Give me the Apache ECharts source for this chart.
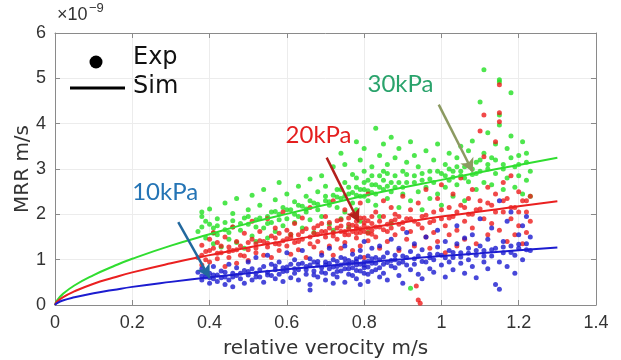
<!DOCTYPE html>
<html>
<head>
<meta charset="utf-8">
<script src="https://cdn.jsdelivr.net/npm/echarts@6/dist/echarts.min.js"></script>
<style>
  html, body { margin: 0; padding: 0; background: #fff; }
  #chart { width: 621px; height: 360px; }
</style>
</head>
<body>
<div id="chart"></div>
<script>
// values in units of 1e-9 m/s
const xTicks = [0, 0.2, 0.4, 0.6, 0.8, 1, 1.2, 1.4];
const yTicks = [0, 1, 2, 3, 4, 5, 6];

// simulation curves
const simX = [0, 0.005, 0.02, 0.05, 0.1, 0.15, 0.2, 0.3, 0.4, 0.5, 0.6, 0.7, 0.8, 0.9, 1.0, 1.1, 1.2, 1.3];
const sim10 = [0, 0.04, 0.10, 0.17, 0.26, 0.33, 0.40, 0.51, 0.61, 0.70, 0.79, 0.86, 0.94, 1.01, 1.08, 1.14, 1.21, 1.27];
const sim20 = [0, 0.07, 0.17, 0.30, 0.47, 0.60, 0.72, 0.92, 1.10, 1.27, 1.42, 1.56, 1.69, 1.82, 1.95, 2.06, 2.18, 2.29];
const sim30 = [0, 0.10, 0.24, 0.43, 0.66, 0.85, 1.02, 1.31, 1.56, 1.80, 2.01, 2.21, 2.41, 2.59, 2.76, 2.93, 3.09, 3.25];

// experimental points [velocity, MRR]
const exp30 = [
  [0.37,1.62],[0.38,1.95],[0.38,2.05],[0.39,1.48],[0.40,1.78],[0.40,2.12],[0.41,1.35],[0.41,1.70],[0.42,1.90],[0.42,1.55],
  [0.43,1.28],[0.44,1.82],[0.44,2.25],[0.45,1.60],[0.45,1.45],[0.46,2.02],[0.46,1.72],[0.47,1.38],[0.47,2.35],
  [0.48,1.65],[0.49,1.92],[0.49,1.25],[0.50,2.10],[0.50,1.78],[0.51,1.52],[0.51,2.42],[0.52,1.88],[0.52,1.40],
  [0.53,2.20],[0.54,1.70],[0.54,2.55],[0.55,1.95],[0.55,1.48],[0.56,2.05],[0.56,1.82],[0.57,2.32],[0.57,1.62],
  [0.58,2.00],[0.58,2.70],[0.59,1.75],[0.59,2.15],[0.60,1.90],[0.60,2.45],[0.61,1.55],[0.61,2.10],[0.62,2.28],[0.62,1.82],
  [0.63,2.62],[0.63,1.95],[0.64,2.18],[0.64,1.70],[0.65,2.40],[0.65,2.05],[0.66,2.78],[0.66,1.88],[0.67,2.25],[0.67,1.60],
  [0.68,2.50],[0.68,2.10],[0.69,2.85],[0.69,1.95],[0.70,2.30],[0.70,2.62],[0.71,1.78],[0.71,2.20],[0.72,3.05],[0.72,2.42],[0.72,1.65],
  [0.73,2.55],[0.73,2.15],[0.74,3.35],[0.74,2.35],[0.74,1.90],[0.75,2.70],[0.75,2.05],[0.75,3.10],[0.76,2.45],[0.76,1.72],[0.77,2.88],[0.77,2.25],
  [0.78,3.60],[0.78,2.60],[0.78,2.10],[0.79,3.20],[0.79,2.40],[0.79,1.85],[0.80,2.95],[0.80,2.55],[0.80,3.45],[0.81,2.30],[0.81,2.75],[0.81,1.60],[0.82,3.05],[0.82,2.48],
  [0.83,3.90],[0.83,2.65],[0.83,2.20],[0.84,3.30],[0.84,2.85],[0.84,1.95],[0.85,3.55],[0.85,2.55],[0.86,3.10],[0.86,2.35],[0.86,2.90],[0.87,3.70],[0.87,2.70],[0.87,1.80],
  [0.88,3.25],[0.88,2.60],[0.89,3.45],[0.89,2.15],[0.90,2.95],[0.90,2.45],[0.91,3.15],[0.91,2.70],[0.92,3.60],[0.92,2.30],[0.92,0.37],
  [0.93,2.85],[0.93,3.30],[0.94,2.50],[0.94,3.05],[0.95,2.75],[0.95,2.10],[0.96,3.40],[0.96,2.60],[0.97,2.95],[0.97,2.35],
  [0.98,3.20],[0.98,2.70],[0.99,2.45],[0.99,3.55],[1.00,2.90],[1.00,2.20],[1.01,3.10],[1.01,2.60],[1.02,3.35],[1.02,2.75],
  [1.03,2.95],[1.03,2.40],[1.04,3.25],[1.04,2.65],[1.05,3.50],[1.05,2.85],[1.06,2.30],[1.06,3.05],[1.07,2.72],[1.07,3.40],
  [1.08,2.88],[1.08,3.62],[1.09,2.55],[1.09,3.15],[1.10,4.48],[1.10,2.95],[1.11,5.19],[1.11,3.35],[1.11,2.70],[1.12,3.00],[1.12,3.80],
  [1.13,2.65],[1.13,3.25],[1.14,3.55],[1.14,2.90],[1.15,4.97],[1.15,4.19],[1.15,3.97],[1.15,4.92],[1.16,3.10],[1.16,2.55],[1.17,3.45],[1.17,2.80],
  [1.18,4.68],[1.18,3.73],[1.19,3.05],[1.19,2.60],[1.20,3.30],[1.20,2.85],[1.21,3.60],[1.21,2.45],[1.22,3.15],[1.22,2.75],[1.23,2.95],[1.23,2.40]
];
const exp30Dense = [
  [0.38,1.72],[0.39,1.85],[0.41,1.58],[0.42,1.75],[0.44,1.66],[0.46,1.86],[0.48,1.80],[0.50,1.95],[0.52,1.72],[0.53,1.92],
  [0.55,1.80],[0.57,2.06],[0.58,1.88],[0.60,2.10],[0.62,2.00],[0.63,2.20],[0.65,2.12],[0.66,2.30],[0.68,2.22],[0.70,2.40],
  [0.71,2.28],[0.73,2.38],[0.74,2.55],[0.75,2.40],[0.76,2.60],[0.77,2.48],[0.78,2.42],[0.78,2.80],[0.79,2.55],[0.80,2.40],
  [0.80,2.70],[0.81,2.52],[0.82,2.65],[0.82,2.85],[0.83,2.45],[0.84,2.60],[0.85,2.75],[0.85,2.95],[0.86,2.62],[0.87,2.50],
  [0.88,2.85],[0.89,2.70],[0.90,2.60],[0.91,2.88],[0.93,2.70],[0.95,2.90],[0.97,2.78],[0.99,2.95],[1.01,2.85],[1.02,3.00],
  [1.03,2.82],[1.04,3.05],[1.05,2.95],[1.06,2.80],[1.07,3.10],[1.08,3.00],[1.09,2.90],[1.10,3.20],[1.12,3.10],[1.14,3.20],
  [1.16,3.00],[1.18,3.25],[1.20,3.10],[1.22,3.35]
];
const exp20 = [
  [0.37,1.05],[0.38,1.32],[0.38,0.88],[0.39,1.18],[0.40,1.45],[0.40,0.95],[0.41,1.25],[0.41,1.60],[0.42,1.02],[0.42,1.38],
  [0.43,1.15],[0.44,0.85],[0.44,1.50],[0.45,1.28],[0.45,1.05],[0.46,1.72],[0.46,1.20],[0.47,0.92],[0.47,1.40],
  [0.48,1.30],[0.49,1.08],[0.49,1.58],[0.50,1.22],[0.50,0.98],[0.51,1.45],[0.51,1.85],[0.52,1.15],[0.52,1.35],
  [0.53,1.62],[0.54,1.10],[0.54,1.40],[0.55,1.28],[0.55,1.90],[0.56,1.05],[0.56,1.52],[0.57,1.35],[0.57,1.70],
  [0.58,1.20],[0.58,1.58],[0.59,1.42],[0.59,2.05],[0.60,1.30],[0.60,1.65],[0.61,1.12],[0.61,1.50],[0.62,1.80],[0.62,1.38],
  [0.63,1.55],[0.63,1.22],[0.64,1.92],[0.64,1.45],[0.65,1.68],[0.65,1.05],[0.66,1.35],[0.66,2.15],[0.67,1.58],[0.67,1.28],
  [0.68,1.75],[0.68,1.40],[0.69,1.62],[0.69,1.15],[0.70,1.95],[0.70,1.50],[0.71,1.30],[0.71,1.82],[0.72,1.60],[0.72,2.30],[0.72,1.10],
  [0.73,1.70],[0.73,1.45],[0.74,1.88],[0.74,1.25],[0.75,1.62],[0.75,2.10],[0.75,1.38],[0.76,1.78],[0.76,1.55],[0.77,2.00],[0.77,1.20],
  [0.78,1.68],[0.78,1.85],[0.78,1.48],[0.79,2.25],[0.79,1.60],[0.79,1.30],[0.80,1.75],[0.80,1.92],[0.80,1.05],[0.81,1.58],[0.81,2.45],[0.81,1.42],[0.82,1.80],[0.82,1.65],
  [0.83,2.05],[0.83,1.50],[0.84,1.72],[0.84,1.25],[0.85,1.95],[0.85,2.30],[0.86,1.62],[0.86,1.40],[0.87,1.85],[0.87,2.15],
  [0.88,1.55],[0.88,2.00],[0.89,1.78],[0.89,1.20],[0.90,2.40],[0.90,1.68],[0.91,1.90],[0.91,1.45],[0.92,2.10],[0.92,1.62],
  [0.93,1.85],[0.93,1.30],[0.935,0.42],[0.94,0.11],[0.945,0.04],[0.94,2.25],[0.95,1.70],[0.95,1.95],[0.96,1.50],[0.96,2.55],[0.97,1.82],[0.97,1.25],
  [0.98,2.05],[0.98,1.60],[0.99,2.35],[0.99,1.40],[1.00,1.90],[1.00,2.65],[1.01,1.75],[1.01,1.15],[1.02,2.15],[1.02,1.55],
  [1.03,1.95],[1.03,2.45],[1.04,1.65],[1.04,1.30],[1.05,2.20],[1.05,2.80],[1.06,1.85],[1.06,1.45],[1.07,2.35],[1.07,2.00],
  [1.08,1.70],[1.08,2.55],[1.09,2.10],[1.09,1.35],[1.10,3.84],[1.10,2.30],[1.11,4.19],[1.11,3.27],[1.11,1.90],[1.12,2.60],[1.12,1.55],
  [1.13,2.20],[1.13,1.80],[1.14,3.60],[1.14,2.45],[1.15,4.86],[1.15,4.24],[1.15,4.04],[1.15,1.65],[1.16,2.70],[1.16,2.05],[1.17,1.40],[1.17,2.35],
  [1.18,2.85],[1.18,1.90],[1.19,2.15],[1.19,1.55],[1.20,2.50],[1.20,1.75],[1.21,2.30],[1.21,1.35],[1.22,2.05],[1.22,1.60],[1.23,2.40],[1.23,1.85]
];
const exp20Dense = [
  [0.38,1.10],[0.39,1.00],[0.40,1.20],[0.42,1.14],[0.43,1.30],[0.45,1.18],[0.47,1.22],[0.48,1.10],[0.50,1.38],[0.52,1.26],
  [0.53,1.42],[0.55,1.36],[0.57,1.48],[0.58,1.34],[0.60,1.46],[0.61,1.56],[0.63,1.40],[0.64,1.62],[0.66,1.50],[0.67,1.70],
  [0.68,1.56],[0.69,1.80],[0.70,1.62],[0.71,1.70],[0.72,1.52],[0.73,1.86],[0.74,1.62],[0.74,1.74],[0.75,1.55],[0.76,1.68],
  [0.76,1.92],[0.77,1.62],[0.77,1.76],[0.78,1.58],[0.78,1.74],[0.79,1.68],[0.79,1.92],[0.80,1.62],[0.80,1.82],[0.81,1.70],
  [0.81,1.86],[0.82,1.56],[0.82,1.95],[0.83,1.72],[0.84,1.85],[0.85,1.66],[0.86,1.78],[0.87,1.70],[0.88,1.88],[0.89,1.95],
  [0.90,1.82],[0.92,1.90],[0.94,1.78],[0.96,1.98],[0.98,1.86],[1.00,2.10],[1.02,1.92],[1.04,2.05],[1.06,2.15],[1.08,2.00],
  [1.10,2.12],[1.12,2.25],[1.14,2.05],[1.16,2.30],[1.18,2.15],[1.20,2.05],[1.22,2.30]
];
const exp10 = [
  [0.37,0.72],[0.38,0.55],[0.38,0.80],[0.39,0.62],[0.40,0.48],[0.40,0.70],[0.41,0.58],[0.41,0.85],[0.42,0.52],[0.42,0.66],
  [0.43,0.75],[0.44,0.45],[0.44,0.62],[0.45,0.90],[0.45,0.55],[0.46,0.70],[0.46,0.40],[0.47,0.65],[0.47,0.82],
  [0.48,0.58],[0.49,0.76],[0.49,0.48],[0.50,0.95],[0.50,0.66],[0.51,0.55],[0.51,0.80],[0.52,0.70],[0.52,1.05],
  [0.53,0.62],[0.54,0.85],[0.54,0.50],[0.55,0.72],[0.55,1.10],[0.56,0.65],[0.56,0.90],[0.57,0.58],[0.57,0.78],
  [0.58,0.95],[0.58,0.68],[0.59,0.52],[0.59,0.82],[0.60,1.15],[0.60,0.75],[0.61,0.60],[0.61,0.90],[0.62,0.70],[0.62,1.00],
  [0.63,0.78],[0.63,0.55],[0.64,0.92],[0.64,1.20],[0.65,0.68],[0.65,0.85],[0.66,0.33],[0.66,0.45],[0.66,1.02],[0.67,0.75],[0.67,0.95],
  [0.68,0.62],[0.68,0.88],[0.69,1.10],[0.69,0.72],[0.70,0.55],[0.70,0.95],[0.71,0.80],[0.71,1.25],[0.72,0.68],[0.72,1.00],[0.72,0.48],
  [0.73,0.85],[0.73,0.62],[0.74,1.05],[0.74,0.75],[0.75,0.92],[0.75,0.50],[0.75,1.30],[0.76,0.80],[0.76,0.98],[0.77,0.65],[0.77,1.12],
  [0.78,0.88],[0.78,0.58],[0.78,1.02],[0.79,0.75],[0.79,1.20],[0.79,0.45],[0.80,0.95],[0.80,0.82],[0.80,1.40],[0.81,0.68],[0.81,1.08],[0.81,0.52],[0.82,0.92],[0.82,1.25],
  [0.83,0.78],[0.83,1.05],[0.84,0.62],[0.84,1.30],[0.85,0.90],[0.85,0.70],[0.86,1.15],[0.86,0.55],[0.87,0.98],[0.87,1.45],
  [0.88,0.82],[0.88,1.10],[0.89,0.65],[0.89,1.25],[0.90,0.95],[0.90,0.48],[0.91,1.05],[0.91,1.60],[0.92,0.78],[0.92,1.18],
  [0.93,0.90],[0.93,1.35],[0.94,0.68],[0.94,1.08],[0.95,1.22],[0.95,0.58],[0.96,0.95],[0.96,1.50],[0.97,0.80],[0.97,1.12],
  [0.98,1.00],[0.98,0.72],[0.99,1.28],[0.99,1.65],[1.00,0.88],[1.00,1.10],[1.01,0.62],[1.01,1.40],[1.02,0.95],[1.02,1.20],
  [1.03,1.05],[1.03,0.78],[1.04,1.35],[1.04,1.75],[1.05,0.92],[1.05,1.15],[1.06,0.70],[1.06,1.48],[1.07,1.00],[1.07,1.25],
  [1.08,0.85],[1.08,1.55],[1.09,1.10],[1.09,0.60],[1.10,1.30],[1.10,1.90],[1.11,0.95],[1.11,1.20],[1.12,1.45],[1.12,0.80],
  [1.13,1.08],[1.13,1.70],[1.14,0.45],[1.14,1.25],[1.15,2.30],[1.15,0.95],[1.15,0.35],[1.16,1.40],[1.16,1.15],[1.17,1.85],[1.17,0.85],
  [1.18,1.30],[1.18,2.05],[1.19,1.10],[1.19,0.70],[1.20,1.55],[1.20,1.25],[1.21,1.00],[1.21,1.75],[1.22,1.35],[1.22,1.95],[1.23,1.20],[1.23,1.50]
];
const exp10Dense = [
  [0.38,0.64],[0.39,0.70],[0.40,0.60],[0.41,0.66],[0.43,0.60],[0.44,0.72],[0.46,0.62],[0.48,0.70],[0.50,0.74],[0.52,0.62],
  [0.53,0.78],[0.55,0.66],[0.57,0.86],[0.59,0.74],[0.60,0.84],[0.62,0.80],[0.63,0.90],[0.65,0.78],[0.66,0.88],[0.67,0.66],
  [0.68,0.96],[0.69,0.82],[0.70,0.88],[0.70,0.70],[0.71,0.92],[0.72,0.84],[0.73,0.96],[0.73,0.74],[0.74,0.88],[0.75,0.80],
  [0.75,1.02],[0.76,0.90],[0.76,0.68],[0.77,0.94],[0.77,0.82],[0.78,0.96],[0.78,0.76],[0.79,0.90],[0.79,1.06],[0.80,0.88],
  [0.80,0.70],[0.81,0.96],[0.81,0.84],[0.82,1.02],[0.82,0.74],[0.83,0.92],[0.84,1.00],[0.84,0.82],[0.85,1.06],[0.86,0.94],
  [0.87,0.86],[0.88,1.00],[0.89,0.92],[0.90,1.08],[0.91,0.88],[0.93,1.02],[0.95,0.96],[0.97,1.04],[0.99,1.12],[1.01,1.04],
  [1.03,1.16],[1.05,1.06],[1.07,1.14],[1.09,1.20],[1.11,1.08],[1.13,1.22],[1.16,1.28],[1.18,1.16],[1.20,1.34],[1.22,1.22]
];

// annotation labels: [text, x, y, colour] and arrows [from, to, colour]
const labels = [
  ['10kPa', 0.285, 2.49, '#2474b5'],
  ['20kPa', 0.682, 3.75, '#e41e1e'],
  ['30kPa', 0.894, 4.86, '#2aa36c']
];
const arrows = [
  [[0.319, 1.83], [0.40, 0.60], '#22689e'],
  [[0.703, 3.25], [0.786, 1.83], '#b3201c'],
  [[0.993, 4.42], [1.081, 2.94], '#8c9a62']
];

const green = '#22e022', red = '#ee1c1c', blue = '#1a1ad0';
const axisGray = '#8a8a8a';
const font = 'DejaVu Sans';

const chart = echarts.init(document.getElementById('chart'), null, { renderer: 'canvas' });

const zip = (xs, ys) => xs.map((x, i) => [x, ys[i]]);

function scatter(data, color) {
  return {
    type: 'scatter', data, symbolSize: 5, silent: true,
    itemStyle: { color }, z: 2
  };
}
function simLine(data, color) {
  return {
    type: 'line', data, smooth: true, symbol: 'none', silent: true,
    lineStyle: { color, width: 2 }, z: 3
  };
}
function frameAxis(position, max, interval) {
  return {
    type: 'value', min: 0, max, interval, position,
    axisLine: { show: true, onZero: false, lineStyle: { color: axisGray } },
    axisTick: { show: true, inside: true, length: 5, lineStyle: { color: axisGray } },
    axisLabel: { show: false }, splitLine: { show: false }
  };
}

chart.setOption({
  animation: false,
  backgroundColor: '#fff',
  grid: { left: 55, right: 25, top: 33, bottom: 55, containLabel: false, outerBoundsMode: 'none' },
  xAxis: [{
    type: 'value', min: 0, max: 1.4, interval: 0.2, position: 'bottom',
    name: 'relative verocity m/s', nameLocation: 'middle', nameGap: 34, nameMoveOverlap: false,
    nameTextStyle: { fontSize: 20, color: '#333', fontFamily: font },
    axisLine: { onZero: false, lineStyle: { color: axisGray } },
    axisTick: { inside: true, length: 5, lineStyle: { color: axisGray } },
    axisLabel: { fontSize: 18, color: '#333', margin: 9, fontFamily: 'Liberation Sans',
      formatter: v => String(+v.toFixed(1)) },
    splitLine: { show: true, lineStyle: { color: '#ececec' } }
  }, frameAxis('top', 1.4, 0.2)],
  yAxis: [{
    type: 'value', min: 0, max: 6, interval: 1, position: 'left',
    name: 'MRR m/s', nameLocation: 'middle', nameGap: 22, nameRotate: 90, nameMoveOverlap: false,
    nameTextStyle: { fontSize: 20, color: '#333', fontFamily: font },
    axisLine: { show: true, onZero: false, lineStyle: { color: axisGray } },
    axisTick: { show: true, inside: true, length: 5, lineStyle: { color: axisGray } },
    axisLabel: { fontSize: 18, color: '#333', margin: 9, fontFamily: 'Liberation Sans' },
    splitLine: { show: true, lineStyle: { color: '#ececec' } }
  }, frameAxis('right', 6, 1)],
  series: [
    scatter(exp30.concat(exp30Dense), green),
    scatter(exp20.concat(exp20Dense), red),
    scatter(exp10.concat(exp10Dense), blue),
    simLine(zip(simX, sim30), '#30dd30'),
    simLine(zip(simX, sim20), '#ea2020'),
    Object.assign(simLine(zip(simX, sim10), '#1c1cd0'), {
      markLine: {
        silent: true, symbol: ['none', 'arrow'], symbolSize: [11, 13],
        label: { show: false },
        data: arrows.map(a => [
          { coord: a[0], lineStyle: { color: a[2], width: 2.5, type: 'solid' } },
          { coord: a[1] }
        ])
      },
      markPoint: {
        silent: true, symbol: 'circle', symbolSize: 0,
        data: labels.map(l => ({
          coord: [l[1], l[2]],
          label: { show: true, position: 'inside', formatter: l[0], color: l[3],
            fontSize: 24, fontFamily: 'Lato' }
        }))
      }
    })
  ],
  graphic: [
    { type: 'text', left: 57, top: 6, style: { text: '×10', fontSize: 18, fill: '#333', fontFamily: 'Liberation Sans' } },
    { type: 'text', left: 89, top: 2, style: { text: '−9', fontSize: 13, fill: '#333', fontFamily: 'Liberation Sans' } },
    { type: 'circle', shape: { cx: 96, cy: 62, r: 6.5 }, style: { fill: '#000' } },
    { type: 'line', shape: { x1: 70, y1: 88, x2: 125, y2: 88 }, style: { stroke: '#000', lineWidth: 3 } },
    { type: 'text', left: 133, top: 46, style: { text: 'Exp', fontSize: 24, fill: '#111', fontFamily: font } },
    { type: 'text', left: 133, top: 75, style: { text: 'Sim', fontSize: 24, fill: '#111', fontFamily: font } }
  ]
});
</script>
</body>
</html>
